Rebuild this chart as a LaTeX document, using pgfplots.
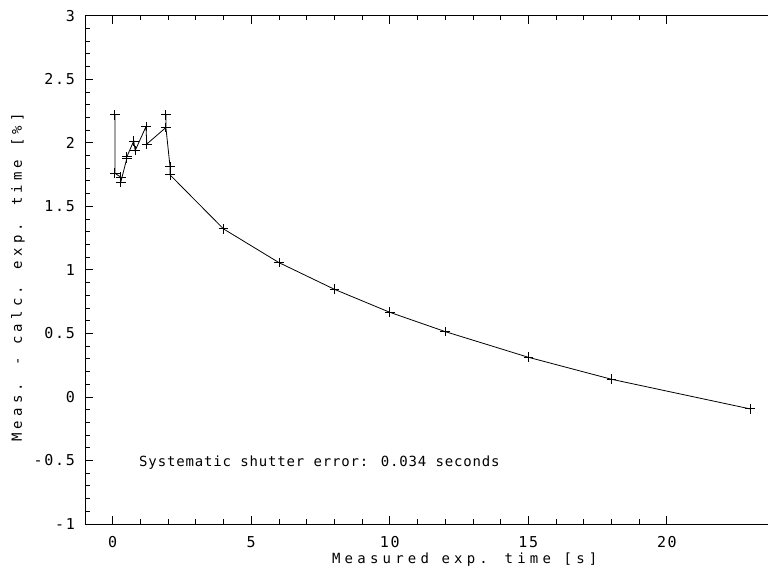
\documentclass[border=0pt]{standalone}
\usepackage{fontspec}
\setmainfont{DejaVu Sans Mono}
\newfontfamily\lblfont{DejaVu Sans Mono}[LetterSpace=30]
\newfontfamily\tickfont{DejaVu Sans Mono}[LetterSpace=11]
\newfontfamily\annfont{DejaVu Sans Mono}[LetterSpace=6]
\usepackage{pgfplots}
\pgfplotsset{compat=1.18}
\begin{document}
\begin{tikzpicture}
\begin{axis}[
  scale only axis,
  width=683pt, height=508.3pt,
  xmin=-1, xmax=23.65,
  ymin=-1, ymax=3,
  axis x line=box,
  axis y line*=left,
  axis line style={-, line width=0.8pt},
  tick align=inside,
  xtick={0,5,10,15,20},
  minor x tick num=4,
  ytick={-1,-0.5,0,0.5,1,1.5,2,2.5,3},
  minor y tick num=4,
  major tick length=8pt,
  minor tick length=4.5pt,
  tick style={line width=0.8pt, black},
  /pgf/number format/assume math mode=true,
  ticklabel style={font=\tickfont\fontsize{15}{15}\selectfont, inner sep=0pt},
  yticklabel style={anchor=east, xshift=-10pt},
  xticklabel style={anchor=north, yshift=-12pt},
  xlabel={Measured exp. time [s]},
  ylabel={Meas. - calc. exp. time [\%]},
  label style={font=\lblfont\fontsize{14}{14}\selectfont, inner sep=0pt},
  xlabel style={at={(axis description cs:0.556,0)}, anchor=center, yshift=-36pt},
  ylabel style={at={(axis description cs:0,0.485)}, anchor=center, rotate=0, yshift=67pt},
  clip=false,
]
\addplot[black, line width=0.8pt, mark=+, mark size=4.8pt, mark options={line width=0.9pt}] coordinates {
  (0.08,2.22)
  (0.08,1.76)
  (0.29,1.73)
  (0.29,1.69)
  (0.51,1.877)
  (0.51,1.89)
  (0.76,2.014)
  (0.81,1.938)
  (1.20,2.127)
  (1.23,1.99)
  (1.92,2.12)
  (1.92,2.22)
  (1.92,2.12)
  (2.07,1.81)
  (2.07,1.747)
  (4,1.322)
  (6,1.057)
  (8,0.847)
  (10,0.666)
  (12,0.514)
  (15,0.312)
  (18,0.139)
  (23,-0.094)
};
\node[anchor=west, inner sep=0pt, font=\annfont\fontsize{14}{14}\selectfont] at (axis cs:0.95,-0.52) {Systematic shutter error: 0.034 seconds};
\end{axis}
\pgfresetboundingbox
\path[use as bounding box] (current axis.south west) ++(-85pt,-43pt) rectangle ([yshift=15.7pt]current axis.north east);
\end{tikzpicture}
\end{document}
